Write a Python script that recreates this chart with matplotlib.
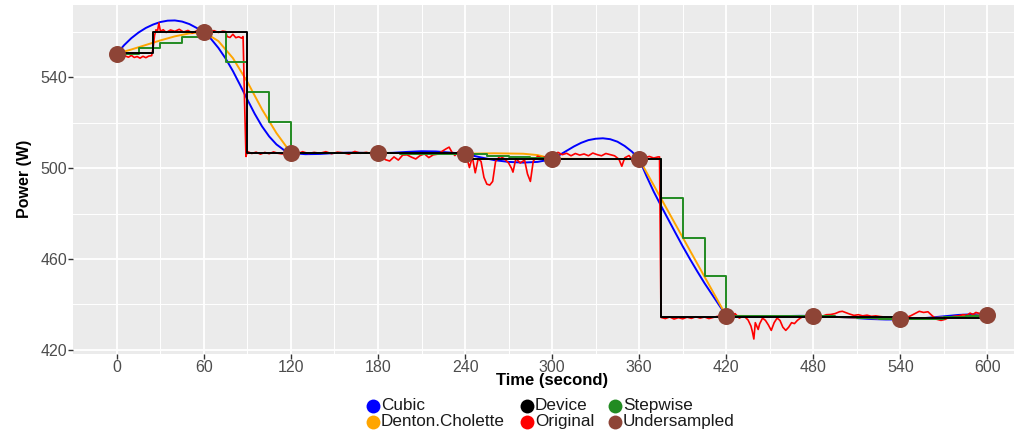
import matplotlib
matplotlib.use("Agg")
import matplotlib.pyplot as plt
from matplotlib.lines import Line2D

plt.rcParams['font.family'] = ['Liberation Sans', 'DejaVu Sans']

# ---------------- data ----------------
under_t = [0, 60, 120, 180, 240, 300, 360, 420, 480, 540, 600]
under_v = [550.5, 559.9, 506.7, 506.6, 506.3, 504.0, 504.0, 434.8, 435.0, 433.4, 435.4]

device_t = [0, 25, 90, 245, 375, 540, 600]
device_v = [550.8, 560.1, 506.6, 504.0, 434.7, 434.0, 434.0]

step_t = [0, 15, 30, 45, 60, 75, 90, 105, 120, 135, 150, 165, 180, 195, 210, 225,
          240, 255, 270, 285, 300, 315, 330, 345, 360, 375, 390, 405, 420, 435,
          450, 465, 480, 495, 510, 525, 540, 555, 570, 585, 600]
step_v = [550.5, 552.8, 555.3, 557.6, 560.0, 546.9, 533.6, 520.2, 506.7, 506.7,
          506.7, 506.6, 506.6, 506.5, 506.4, 506.3, 506.2, 505.6, 505.0, 504.5,
          504.0, 504.0, 504.0, 504.0, 504.0, 486.7, 469.5, 452.4, 435.0, 435.0,
          435.0, 435.0, 435.0, 434.6, 434.1, 433.7, 433.4, 433.8, 434.4, 434.9, 435.4]

cubic_t = [0, 5, 10, 15, 20, 25, 30, 35, 40, 45, 50, 55, 60, 65, 70, 75, 80, 85,
           90, 95, 100, 105, 110, 115, 120, 130, 140, 150, 160, 170, 180, 190,
           200, 210, 220, 230, 240, 250, 260, 270, 280, 290, 300, 305, 310, 315,
           320, 325, 330, 335, 340, 345, 350, 355, 360, 365, 370, 375, 380, 385,
           390, 395, 400, 405, 410, 415, 420, 430, 440, 450, 460, 470, 480, 490,
           500, 510, 520, 530, 540, 550, 560, 570, 580, 590, 600]
cubic_v = [550.5, 554.2, 557.3, 559.8, 561.8, 563.3, 564.4, 565.0, 565.1, 564.6,
           563.5, 561.8, 559.9, 556.9, 553.0, 548.3, 542.8, 536.6, 530.2, 524.0,
           518.5, 514.0, 510.5, 508.1, 506.7, 506.2, 506.3, 506.7, 506.9, 506.8,
           506.6, 506.8, 507.2, 507.5, 507.4, 506.9, 506.3, 504.9, 503.6, 502.8,
           502.5, 502.8, 504.0, 505.8, 507.7, 509.6, 511.2, 512.4, 513.0, 513.2,
           512.8, 511.7, 509.8, 507.3, 504.0, 496.6, 489.7, 483.5, 477.5, 471.5,
           465.6, 460.0, 454.6, 449.4, 444.6, 439.8, 435.0, 434.6, 434.6, 434.7,
           434.9, 435.0, 435.0, 434.8, 434.4, 434.0, 433.6, 433.4, 433.4, 433.7,
           434.2, 434.8, 435.4, 435.7, 435.4]

denton_t = [0, 10, 20, 30, 40, 50, 60, 70, 80, 90, 100, 110, 120, 180, 240, 260,
            280, 290, 300, 330, 360, 370, 380, 390, 400, 410, 420, 480, 510, 540,
            570, 600]
denton_v = [550.5, 552.3, 554.3, 556.3, 558.1, 559.4, 560.0, 556.0, 548.5, 538.0,
            526.0, 515.5, 506.7, 506.8, 506.4, 506.6, 506.4, 505.8, 504.2, 504.1,
            504.0, 492.5, 481.0, 469.5, 458.0, 446.5, 435.0, 434.8, 434.2, 433.5,
            434.3, 435.4]

# Original (measured) signal, read piece by piece
orig_t_a = [0, 2, 4, 6, 8, 10, 12, 14, 16, 18, 20, 22, 24, 25, 26, 27, 28, 29, 30,
            32, 34, 37, 40, 43, 46, 49, 52, 55, 58, 61, 64, 67, 70, 73, 75,
            76, 78, 80, 82, 84, 86, 87, 88, 89]
orig_v_a = [549.6, 549.1, 548.6, 549.4, 548.9, 549.7, 548.8, 549.2, 548.5, 549.3,
            548.7, 549.4, 549.6, 553.0, 558.5, 561.0, 560.2, 564.0, 560.4,
            561.0, 559.8, 560.9, 560.3, 561.2, 560.0, 560.7, 559.6, 560.5, 560.0,
            560.8, 560.1, 560.6, 559.8, 560.4, 560.2,
            558.0, 557.6, 559.0, 557.5, 557.9, 557.3, 558.0, 530.0, 505.2]
orig_t_b = [90, 93, 96, 99, 102, 105, 108, 111, 114, 117, 120, 124, 128, 132, 136,
            140, 144, 148, 152, 156, 160, 164, 168, 172, 176, 180]
orig_v_b = [507.4, 506.5, 507.1, 506.2, 507.0, 506.4, 507.2, 506.6, 506.3, 507.0,
            506.7, 506.2, 507.3, 506.5, 507.0, 506.6, 507.3, 506.4, 507.1, 506.8,
            506.2, 507.4, 506.6, 507.0, 506.3, 506.6]
orig_t_c = [183, 185, 188, 191, 194, 197, 200, 203, 206, 209, 212, 215, 218, 221,
            224, 227, 229, 231, 233, 235, 237, 239]
orig_v_c = [505.5, 503.8, 503.2, 505.0, 503.6, 505.8, 505.9, 504.9, 504.1, 505.6,
            506.3, 504.7, 505.9, 506.2, 507.4, 508.6, 509.3, 507.0, 505.6, 507.2,
            506.5, 507.5]
orig_t_d = [241, 243, 245, 247, 249, 251, 253, 255, 257, 259, 261, 264, 267, 270,
            272, 273, 275, 278, 281, 283, 285, 287, 290, 293, 296, 299]
orig_v_d = [505.2, 500.3, 505.0, 498.0, 504.2, 503.0, 496.0, 493.0, 492.6, 494.2,
            503.0, 505.3, 504.2, 502.3, 500.0, 498.3, 504.3, 502.3, 503.6, 497.5,
            494.2, 503.2, 505.3, 504.6, 505.2, 504.1]
orig_t_e = [301, 304, 307, 310, 313, 316, 319, 322, 325, 328, 331, 334, 337, 340,
            343, 346, 348, 350, 353, 356, 358, 361, 364, 367, 370, 373, 374]
orig_v_e = [505.2, 507.0, 506.0, 506.6, 505.5, 506.5, 505.8, 506.3, 505.5, 506.7,
            506.0, 505.5, 506.5, 506.0, 505.5, 504.0, 500.9, 504.6, 505.6, 503.0,
            505.6, 505.0, 504.7, 505.2, 504.5, 505.0, 505.0]
orig_t_f = [375, 378, 381, 384, 387, 390, 393, 396, 399, 402, 405, 408, 411, 414,
            417, 420]
orig_v_f = [434.3, 433.8, 434.5, 433.6, 434.2, 433.7, 434.4, 433.9, 434.6, 434.0,
            434.5, 433.8, 434.3, 434.8, 434.2, 435.0]
orig_t_g = [423, 426, 429, 432, 435, 437, 438, 439, 440, 442, 443, 445, 447, 449,
            451, 453, 455, 457, 459, 461, 463, 465, 467, 469, 471, 474, 477, 480]
orig_v_g = [434.5, 436.0, 434.0, 435.0, 433.2, 430.5, 428.0, 424.8, 432.0, 429.0,
            431.5, 434.0, 433.0, 431.0, 428.6, 432.0, 434.0, 433.0, 430.0, 428.6,
            430.0, 432.0, 431.6, 433.0, 434.0, 435.0, 434.8, 435.2]
orig_t_h = [483, 486, 489, 492, 495, 498, 500, 502, 505, 508, 511, 514, 517, 520,
            523, 526, 529, 532, 535, 538, 541, 544, 547, 550, 553, 556, 559, 562,
            565, 568, 571, 574, 577, 580, 583, 586, 588, 590, 592, 595, 598, 600]
orig_v_h = [435.0, 434.8, 435.5, 435.6, 436.0, 436.8, 437.0, 436.5, 435.8, 435.2,
            435.5, 435.0, 435.3, 434.8, 435.0, 434.7, 434.5, 434.2, 434.0, 433.8,
            434.0, 434.3, 435.0, 436.0, 437.0, 436.5, 436.8, 435.0, 433.5, 433.0,
            433.5, 434.5, 434.8, 435.0, 435.5, 435.3, 436.2, 435.6, 436.5, 436.0,
            435.5, 435.5]

x_ticks = [0, 60, 120, 180, 240, 300, 360, 420, 480, 540, 600]
y_ticks = [420, 460, 500, 540]

# legend order (column-major, 2 rows x 3 columns)
names = ["Cubic", "Denton.Cholette", "Device", "Original", "Stepwise", "Undersampled"]
colors = {"Cubic": "#0000FF", "Denton.Cholette": "#FFA500", "Device": "#000000",
          "Original": "#FF0000", "Stepwise": "#228B22", "Undersampled": "#8E4436"}

orig_t = orig_t_a + orig_t_b + orig_t_c + orig_t_d + orig_t_e + orig_t_f + orig_t_g + orig_t_h
orig_v = orig_v_a + orig_v_b + orig_v_c + orig_v_d + orig_v_e + orig_v_f + orig_v_g + orig_v_h

# ---------------- figure ----------------
W, H = 1014, 430
fig = plt.figure(figsize=(W / 100, H / 100), dpi=100)
left, right, top, bottom = 73.3, 1031, 5, 354
ax = fig.add_axes([left / W, 1 - bottom / H, (right - left) / W, (bottom - top) / H])
ax.set_facecolor("#EBEBEB")
for s in ax.spines.values():
    s.set_visible(False)

lw = 1.4
ax.plot(cubic_t, cubic_v, color=colors["Cubic"], lw=lw, zorder=3)
ax.plot(denton_t, denton_v, color=colors["Denton.Cholette"], lw=lw, zorder=3)
ax.plot(orig_t, orig_v, color=colors["Original"], lw=1.2, zorder=4)
ax.step(device_t, device_v, where="post", color=colors["Device"], lw=lw, zorder=5)
ax.step(step_t, step_v, where="post", color=colors["Stepwise"], lw=lw, zorder=4)
ax.scatter(under_t, under_v, s=150, color=colors["Undersampled"], zorder=6, linewidths=0)

ax.set_xlim(-30, 630)
ax.set_ylim(418.2, 571.9)
ax.set_xticks(x_ticks)
ax.set_yticks(y_ticks)
ax.set_xticks([30, 90, 150, 210, 270, 330, 390, 450, 510, 570, 630], minor=True)
ax.set_yticks([440, 480, 520, 560], minor=True)
ax.grid(which="major", color="white", lw=1.3)
ax.grid(which="minor", color="white", lw=0.7)
ax.set_axisbelow(True)
ax.tick_params(which="major", length=3.5, width=1, color="#333333",
               labelcolor="#4D4D4D", labelsize=11.5, pad=0.5)
ax.tick_params(axis="y", which="major", pad=1)
ax.tick_params(which="minor", length=0)

fig.text(25 / W, 1 - 179 / H, "Power (W)", rotation=90, ha="center", va="center",
         fontsize=11.5, fontweight="bold")
fig.text(552 / W, 1 - 381 / H, "Time (second)", ha="center", va="center",
         fontsize=12, fontweight="bold")

# legend: 2 rows x 3 columns, keys are coloured dots
key_x = [373, 373, 527, 527, 615, 615]
key_y = [405.5, 421.8, 405.5, 421.8, 405.5, 421.8]
for n, kx, ky in zip(names, key_x, key_y):
    fig.add_artist(Line2D([kx / W], [1 - ky / H], transform=fig.transFigure,
                          marker="o", linestyle="none", markersize=10,
                          markerfacecolor=colors[n], markeredgewidth=0))
    fig.text((kx + 8) / W, 1 - ky / H, n, ha="left", va="center",
             fontsize=12.3, color="#1A1A1A")

fig.savefig("out.png", dpi=100)
